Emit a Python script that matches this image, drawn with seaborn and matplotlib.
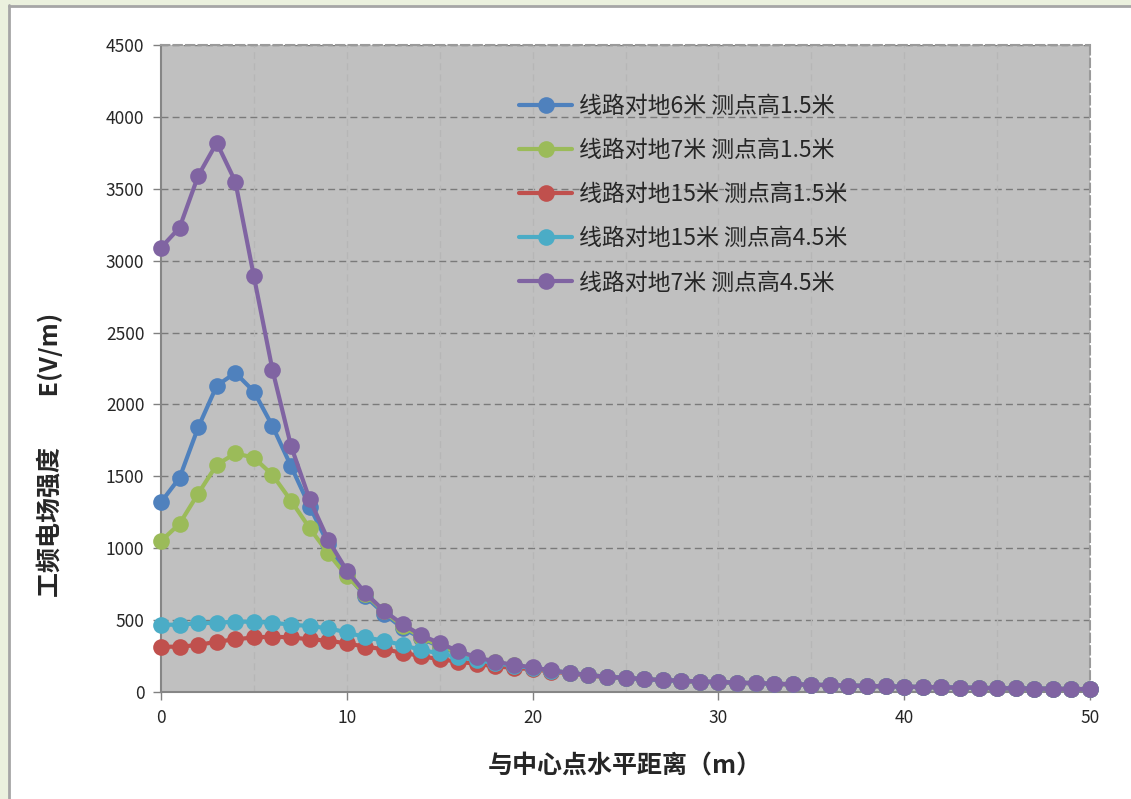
import numpy as np
import pandas as pd
import seaborn as sns
import matplotlib.pyplot as plt
from matplotlib.lines import Line2D
from matplotlib.patches import Rectangle

# distance from centre point (m)
dist = list(range(0, 51))

# 线路对地6米 测点高1.5米
e_6_15 = [1320, 1490, 1840, 2130, 2220, 2090, 1850, 1570, 1290, 1030,
          820, 665, 545, 445, 375, 315, 268, 232, 203, 182,
          166, 146, 132, 116, 104, 97, 88, 81, 77, 71,
          68, 64, 60, 56, 53, 50, 47, 44, 41, 39,
          36, 34, 32, 30, 28, 26, 25, 23, 22, 20, 19]
# 线路对地7米 测点高1.5米
e_7_15 = [1050, 1170, 1380, 1580, 1660, 1630, 1510, 1330, 1140, 965,
          805, 680, 560, 460, 382, 322, 272, 236, 206, 185,
          169, 148, 134, 118, 106, 98, 89, 82, 78, 72,
          69, 65, 61, 57, 54, 51, 48, 45, 42, 40,
          37, 35, 33, 31, 29, 27, 25, 24, 22, 21, 20]
# 线路对地15米 测点高1.5米
e_15_15 = [315, 315, 327, 350, 366, 380, 385, 380, 366, 357,
           338, 315, 297, 273, 250, 227, 211, 195, 178, 168,
           158, 142, 130, 115, 104, 96, 88, 81, 77, 71,
           68, 64, 60, 56, 53, 50, 47, 44, 41, 39,
           36, 34, 32, 30, 28, 26, 25, 23, 22, 20, 19]
# 线路对地15米 测点高4.5米
e_15_45 = [468, 468, 478, 482, 489, 489, 482, 468, 459, 443,
           415, 380, 357, 327, 292, 269, 241, 222, 200, 182,
           168, 148, 134, 118, 106, 98, 89, 82, 78, 72,
           69, 65, 61, 57, 54, 51, 48, 45, 42, 40,
           37, 35, 33, 31, 29, 27, 25, 24, 22, 21, 20]
# 线路对地7米 测点高4.5米
e_7_45 = [3090, 3230, 3590, 3820, 3550, 2890, 2240, 1710, 1340, 1057,
          845, 688, 565, 471, 396, 339, 285, 241, 211, 188,
          172, 150, 134, 118, 106, 99, 90, 83, 79, 73,
          70, 66, 62, 58, 54, 51, 48, 45, 42, 40,
          37, 35, 33, 31, 29, 27, 25, 24, 22, 21, 20]

names = ['线路对地6米 测点高1.5米', '线路对地7米 测点高1.5米', '线路对地15米 测点高1.5米',
         '线路对地15米 测点高4.5米', '线路对地7米 测点高4.5米']
colors = ['#4f81bd', '#9bbb59', '#c0504d', '#4bacc6', '#8064a2']
series = [e_6_15, e_7_15, e_15_15, e_15_45, e_7_45]

df = pd.DataFrame({'dist': dist * 5,
                   'E': sum(series, []),
                   'line': sum([[n] * len(dist) for n in names], [])})

sns.set_style('white')
plt.rcParams['font.family'] = ['Noto Sans CJK SC', 'DejaVu Sans']
plt.rcParams['axes.unicode_minus'] = False

fig = plt.figure(figsize=(11.31, 7.99), dpi=100)
ax = fig.add_axes([161 / 1131, 1 - 692 / 799, (1090 - 161) / 1131, (692 - 45) / 799])
ax.set_facecolor('#c0c0c0')

# gridlines
for yv in range(500, 4501, 500):
    ax.axhline(yv, color='#7a7a7a', lw=1, ls=(0, (5, 3)), zorder=0.5)
for xv in range(5, 50, 5):
    ax.axvline(xv, color='#b6b6b6', lw=1, ls=(0, (5, 3)), zorder=0.5)

for i, n in enumerate(names):
    sns.lineplot(data=df[df['line'] == n], x='dist', y='E', ax=ax, color=colors[i],
                 lw=3, marker='o', markersize=12, markeredgewidth=0, clip_on=False,
                 zorder=3 + i, legend=False)

ax.set_xlim(0, 50)
ax.set_ylim(0, 4500)
ax.set_xticks(range(0, 51, 10))
ax.set_yticks(range(0, 4501, 500))
ax.tick_params(axis='both', labelsize=12.5, length=6, width=1, color='#808080',
               direction='out', pad=6, left=True, bottom=True)
ax.set_xlabel('')
ax.set_ylabel('')

for s in ['left', 'bottom']:
    ax.spines[s].set_color('#868686')
    ax.spines[s].set_linewidth(1.5)
for s in ['top', 'right']:
    ax.spines[s].set_color('#9a9a9a')
    ax.spines[s].set_linestyle((0, (4, 2)))
    ax.spines[s].set_linewidth(1.5)

handles = [Line2D([], [], color=c, lw=3, marker='o', markersize=12, markeredgewidth=0) for c in colors]
ax.legend(handles, names, loc='upper left', bbox_to_anchor=((510 - 161) / 929, (692 - 86) / 647),
          frameon=False, fontsize=16.5, handlelength=2.3, labelspacing=0.92, handletextpad=0.3,
          borderaxespad=0)

fig.text(625 / 1131, 1 - 767 / 799, '与中心点水平距离（m）', ha='center', va='center',
         fontsize=18, fontweight='bold')
fig.text(50 / 1131, 1 - 455 / 799, '工频电场强度         E(V/m)', ha='center', va='center',
         rotation=90, fontsize=18, fontweight='bold')

# spreadsheet frame around the chart
fig.patches.append(Rectangle((0, 0), 8 / 1131, 1, transform=fig.transFigure, color='#ebf1de', zorder=0))
fig.patches.append(Rectangle((0, 1 - 5 / 799), 1, 5 / 799, transform=fig.transFigure, color='#ebf1de', zorder=0))
fig.add_artist(Line2D([9 / 1131, 9 / 1131], [0, 1 - 5 / 799], transform=fig.transFigure, color='#a6a6a6', lw=2))
fig.add_artist(Line2D([9 / 1131, 1], [1 - 6 / 799, 1 - 6 / 799], transform=fig.transFigure, color='#a6a6a6', lw=2))

fig.savefig('out.png', dpi=100)
